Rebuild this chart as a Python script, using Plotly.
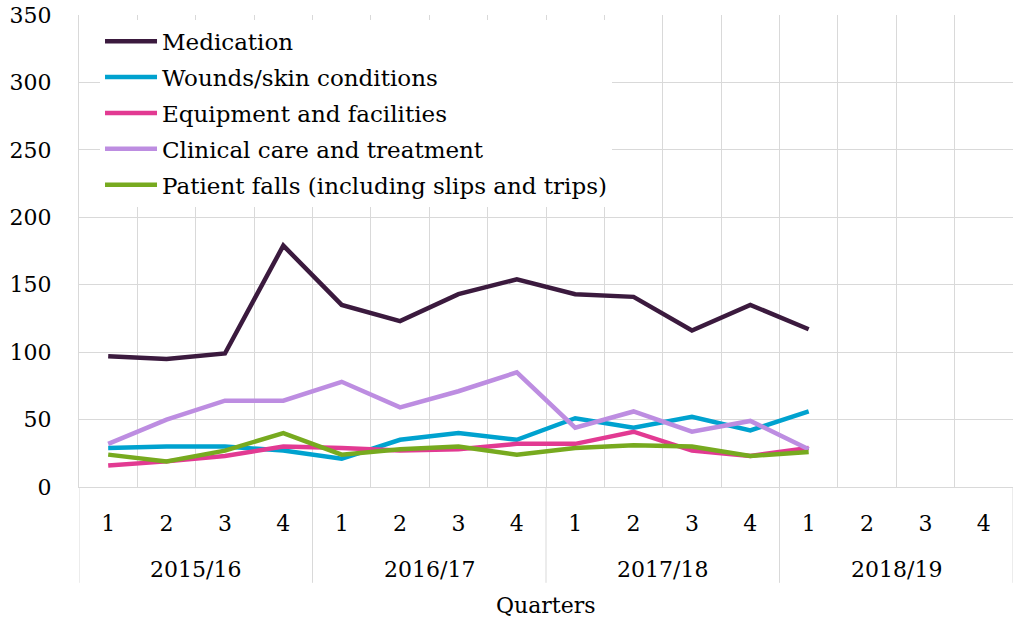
import plotly.graph_objects as go

# Financial years and quarters
years = ["2015/16", "2016/17", "2017/18", "2018/19"]
quarters = ["1", "2", "3", "4"]

# Incident counts per quarter (2018/19 Q2-Q4 not yet reported)
medication = [97, 95, 99, 179, 135, 123, 143, 154, 143, 141, 116, 135, 117, None, None, None]
wounds = [29, 30, 30, 27, 21, 35, 40, 35, 51, 44, 52, 42, 56, None, None, None]
equipment = [16, 19, 23, 30, 29, 27, 28, 32, 32, 41, 27, 23, 29, None, None, None]
clinical = [32, 50, 64, 64, 78, 59, 71, 85, 44, 56, 41, 49, 28, None, None, None]
falls = [24, 19, 27, 40, 24, 28, 30, 24, 29, 31, 30, 23, 26, None, None, None]

series = [
    ("Medication", medication, "#3b1a3e"),
    ("Wounds/skin conditions", wounds, "#00a2cf"),
    ("Equipment and facilities", equipment, "#e23a92"),
    ("Clinical care and treatment", clinical, "#bd8de1"),
    ("Patient falls (including slips and trips)", falls, "#77aa1f"),
]

FONT = "DejaVu Serif"
GRID = "#d9d9d9"

nq = len(quarters)
n = len(years) * nq
x_pos = list(range(n))
q_labels = [q for _ in years for q in quarters]

fig = go.Figure()
for i, (name, vals, color) in enumerate(series):
    fig.add_trace(go.Scatter(
        x=x_pos, y=vals, name=name, mode="lines",
        line=dict(color=color, width=4.5), legendgroup=f"g{i}",
    ))

# Year labels centred under each group of quarters, with divider lines between groups
for j, yr in enumerate(years):
    fig.add_annotation(
        x=j * nq + (nq - 1) / 2, y=-0.1758, xref="x", yref="paper",
        text=yr, showarrow=False, font=dict(size=22),
        xanchor="center", yanchor="middle",
    )
for j in range(len(years) + 1):
    fig.add_shape(
        type="line", xref="x", yref="paper",
        x0=j * nq - 0.5, x1=j * nq - 0.5, y0=0, y1=-0.203,
        line=dict(color=GRID, width=1), layer="below",
    )

fig.add_annotation(
    x=0.5, y=-0.252, xref="paper", yref="paper", text="Quarters",
    showarrow=False, font=dict(size=22), xanchor="center", yanchor="middle",
)

fig.update_layout(
    width=1013, height=624,
    margin=dict(l=79, r=0, t=15, b=137),
    paper_bgcolor="white", plot_bgcolor="white",
    font=dict(family=FONT, size=22, color="#000000"),
    showlegend=True,
    legend=dict(
        x=0.0225, y=0.99, xanchor="left", yanchor="top",
        bgcolor="white", font=dict(size=23), traceorder="grouped",
        tracegroupgap=3, itemwidth=52,
    ),
    xaxis=dict(
        range=[-0.5, n - 0.5], tickmode="array", tickvals=x_pos, ticktext=q_labels,
        showgrid=False, ticks="", zeroline=False,
        minor=dict(tickmode="linear", tick0=-0.5, dtick=1, showgrid=True,
                   gridcolor=GRID, gridwidth=1, ticks=""),
        showline=True, linecolor=GRID, linewidth=1,
        tickfont=dict(size=22), ticklabelstandoff=17,
    ),
    yaxis=dict(
        range=[0, 350], dtick=50, showgrid=True, gridcolor=GRID, gridwidth=1,
        ticks="", zeroline=False, showline=True, linecolor=GRID,
        tickfont=dict(size=22), ticklabelstandoff=22,
    ),
)

fig.write_html("out.html")
